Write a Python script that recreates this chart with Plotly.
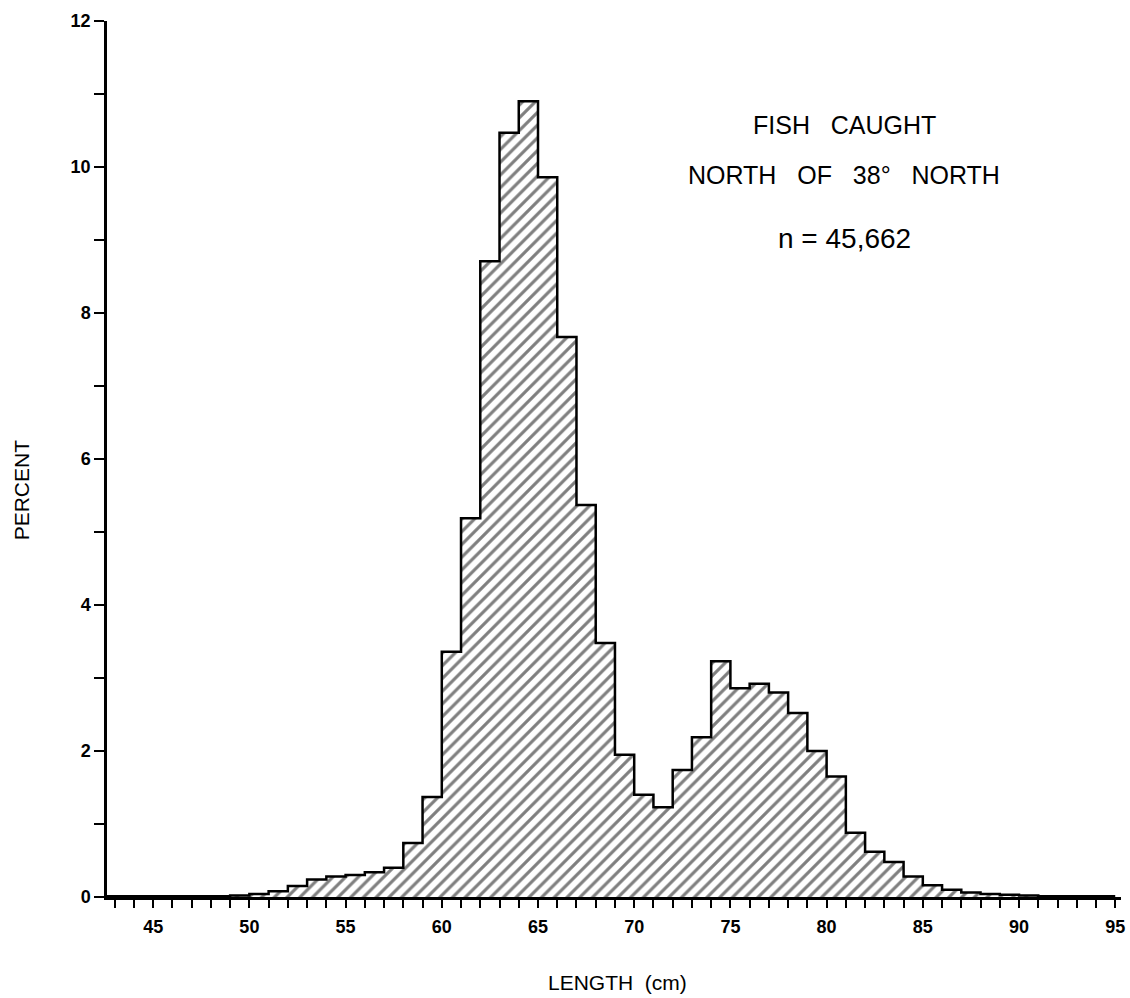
import plotly.graph_objects as go

# ---- data ----
length_bins = list(range(42, 95))          # lower edge of each 1-cm bin
percent = [
    0.01, 0.01, 0.01, 0.01, 0.01, 0.01, 0.01, 0.02,   # 42-49
    0.04, 0.08, 0.15, 0.24, 0.28, 0.30, 0.34, 0.40,   # 50-57
    0.74, 1.37,                                       # 58-59
    3.36, 5.19, 8.71, 10.47, 10.90, 9.86, 7.67, 5.37, # 60-67
    3.48, 1.95, 1.40, 1.23, 1.74, 2.19, 3.23, 2.86,   # 68-75
    2.92, 2.80, 2.52, 2.00, 1.65, 0.88, 0.62, 0.48,   # 76-83
    0.28, 0.16, 0.10, 0.06, 0.04, 0.03, 0.02, 0.01,   # 84-91
    0.01, 0.01, 0.01,                                 # 92-94
]
x_tick_vals = [45, 50, 55, 60, 65, 70, 75, 80, 85, 90, 95]
x_tick_text = ["45", "50", "55", "60", "65", "70", "75", "80", "85", "90", "95"]
x_minor_vals = list(range(43, 96))
y_tick_vals = [0, 2, 4, 6, 8, 10, 12]
y_tick_text = ["0", "2", "4", "6", "8", "10", "12"]
y_minor_vals = [1, 3, 5, 7, 9, 11]

title_lines = ["FISH   CAUGHT", "NORTH   OF   38°   NORTH", "n = 45,662"]
x_title = "LENGTH  (cm)"
y_title = "PERCENT"

# ---- figure ----
centers = [b + 0.5 for b in length_bins]
step_x = length_bins + [length_bins[-1] + 1]
step_y = percent + [percent[-1]]

fig = go.Figure()
fig.add_trace(go.Bar(
    x=centers, y=percent, width=1.0,
    marker=dict(color="white", line=dict(width=0),
                pattern=dict(shape="/", fgcolor="black", bgcolor="white",
                             size=9, solidity=0.35)),
    hoverinfo="skip", showlegend=False,
))
fig.add_trace(go.Scatter(
    x=step_x, y=step_y, mode="lines", line=dict(color="black", width=2.5, shape="hv"),
    hoverinfo="skip", showlegend=False,
))

L, R, T, B = 107, 5, 21, 101
W, H = 1130, 998
pw, ph = W - L - R, H - T - B

def px(xp):
    return (xp - L) / pw

def py(yp):
    return (H - B - yp) / ph

font_main = "Liberation Sans, Arial, sans-serif"

annots = []
for text, ypix, size in zip(title_lines, [125, 175, 239], [25, 25, 28]):
    annots.append(dict(text=text, x=px(847), y=py(ypix), xref="paper", yref="paper",
                       showarrow=False, xanchor="center", yanchor="middle",
                       font=dict(family=font_main, size=size, color="black")))
annots.append(dict(text=x_title, x=px(620), y=py(982), xref="paper", yref="paper",
                   showarrow=False, xanchor="center", yanchor="middle",
                   font=dict(family=font_main, size=21, color="black")))
annots.append(dict(text=y_title, x=px(22), y=py(490), xref="paper", yref="paper",
                   showarrow=False, xanchor="center", yanchor="middle", textangle=-90,
                   font=dict(family=font_main, size=21, color="black")))

tick_font = dict(family=font_main, size=18, color="black", weight="bold")

fig.update_layout(
    width=W, height=H,
    margin=dict(l=L, r=R, t=T, b=B, pad=0),
    paper_bgcolor="white", plot_bgcolor="white",
    bargap=0,
    annotations=annots,
    xaxis=dict(range=[42.6, 95.3], showgrid=False, zeroline=False,
               showline=True, linecolor="black", linewidth=2.5,
               tickvals=x_tick_vals, ticktext=x_tick_text,
               ticks="outside", ticklen=8, tickwidth=2, tickcolor="black",
               ticklabelstandoff=4,
               minor=dict(tickvals=x_minor_vals, ticks="outside", ticklen=8,
                          tickwidth=2, tickcolor="black"),
               tickfont=tick_font),
    yaxis=dict(range=[0, 12], showgrid=False, zeroline=False,
               showline=True, linecolor="black", linewidth=2.5,
               tickvals=y_tick_vals, ticktext=y_tick_text,
               ticks="outside", ticklen=10, tickwidth=2, tickcolor="black",
               minor=dict(tickvals=y_minor_vals, ticks="outside", ticklen=10,
                          tickwidth=2, tickcolor="black"),
               tickfont=tick_font),
)

fig.write_html("out.html")
